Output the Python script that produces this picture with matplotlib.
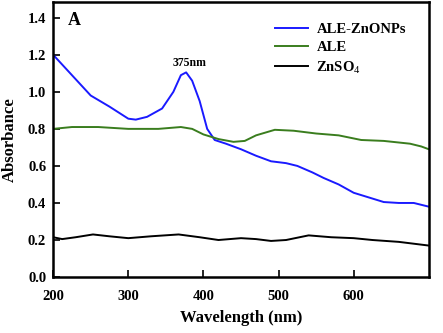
import numpy as np
import matplotlib
matplotlib.use("Agg")
import matplotlib.pyplot as plt

plt.rcParams['font.family'] = ['Liberation Serif', 'DejaVu Serif']
plt.rcParams['mathtext.fontset'] = 'custom'
plt.rcParams['mathtext.rm'] = 'Liberation Serif'

# ALE-ZnONPs (blue)
wl_np = [200, 225, 250, 275, 300, 310, 325, 345, 360, 370, 377, 385, 395, 405, 415,
         430, 450, 470, 490, 510, 525, 545, 560, 580, 600, 620, 640, 660, 680, 700]
abs_np = [1.20, 1.09, 0.98, 0.92, 0.855, 0.85, 0.865, 0.91, 1.00, 1.09, 1.105, 1.06, 0.95, 0.80, 0.74,
          0.72, 0.69, 0.655, 0.625, 0.615, 0.60, 0.565, 0.535, 0.50, 0.455, 0.43, 0.405, 0.40, 0.40, 0.38]

# ALE (green)
wl_ale = [200, 225, 260, 300, 340, 370, 385, 400, 420, 440, 455, 470, 495, 520, 550,
          580, 610, 640, 675, 690, 700]
abs_ale = [0.80, 0.81, 0.81, 0.80, 0.80, 0.81, 0.80, 0.77, 0.745, 0.73, 0.735, 0.765, 0.795, 0.79, 0.775,
           0.765, 0.74, 0.735, 0.72, 0.705, 0.69]

# ZnSO4 (black)
wl_zn = [200, 212, 230, 253, 275, 300, 330, 367, 395, 420, 450, 470, 490, 510, 540,
         570, 600, 625, 660, 700]
abs_zn = [0.215, 0.205, 0.215, 0.23, 0.22, 0.21, 0.22, 0.23, 0.215, 0.20, 0.21, 0.205, 0.195, 0.20, 0.225,
          0.215, 0.21, 0.20, 0.19, 0.17]

fig = plt.figure(figsize=(4.43, 3.33), dpi=100)
ax = fig.add_axes([0.12, 0.168, 0.848, 0.826])

ax.plot(wl_np, abs_np, color='#1a1aff', lw=1.4, label='ALE-ZnONPs')
ax.plot(wl_ale, abs_ale, color='#3a7d1e', lw=1.4, label='ALE')
ax.plot(wl_zn, abs_zn, color='black', lw=1.4, label='ZnSO$_4$')

ax.set_xlim(200, 700)
ax.set_ylim(0, 1.485)
ax.set_xticks([200, 300, 400, 500, 600])
ax.set_yticks(np.arange(0, 1.41, 0.2))
ax.set_yticklabels(['%.1f' % v for v in np.arange(0, 1.41, 0.2)])
ax.tick_params(direction='in', length=5, width=1.2, labelsize=10.5, pad=5)
ax.tick_params(axis='x', pad=9)
for lab in ax.get_xticklabels() + ax.get_yticklabels():
    lab.set_fontweight('bold')
for s in ax.spines.values():
    s.set_linewidth(1.8)

ax.set_xlabel('Wavelength (nm)', fontsize=12, fontweight='bold', labelpad=5)
ax.set_ylabel('Absorbance', fontsize=12, fontweight='bold', labelpad=7)

ax.text(0.04, 0.965, 'A', transform=ax.transAxes, fontsize=13, fontweight='bold', va='top')
ax.text(382, 1.125, '375nm', ha='center', va='bottom', fontsize=8.5, fontweight='bold')

leg = ax.legend(loc='upper left', bbox_to_anchor=(0.59, 0.925), frameon=False,
                prop={'weight': 'bold', 'size': 10.5}, handlelength=2.3,
                labelspacing=0.35, handletextpad=0.55, borderpad=0, borderaxespad=0)

fig.savefig('out.png', dpi=100)
